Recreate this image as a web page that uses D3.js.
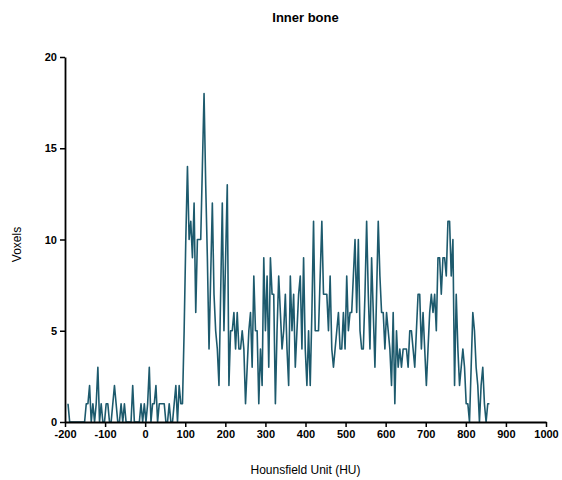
<!DOCTYPE html>
<html><head><meta charset="utf-8">
<script src="https://cdn.jsdelivr.net/npm/d3@7"></script>
<style>
body{margin:0;background:#fff}
svg{display:block}
text{font-family:"Liberation Sans",Arial,Helvetica,sans-serif}
</style>
</head><body>
<svg id="chart" width="562" height="480"></svg>
<script>
const chartTitle = "Inner bone";
const xAxisLabel = "Hounsfield Unit (HU)";
const yAxisLabel = "Voxels";
const xTickValues = [-200,-100,0,100,200,300,400,500,600,700,800,900,1000];
const yTickValues = [0,5,10,15,20];
// histogram bins: first bin centre and bin width in HU
const binStartHU = -192.5;
const binWidthHU = 4.139;
// voxel counts per bin
const voxels = [
 1,0,0,0,0,0,0,0,0,0,
 0,1,1,2,0,1,0,1,3,0,
 1,0,0,1,1,0,0,1,2,1,
 0,0,1,0,1,0,0,0,0,2,
 0,0,0,0,1,0,1,0,1,3,
 0,1,1,2,0,1,1,1,1,0,
 0,1,0,0,1,2,0,2,1,1,
 5,10,14,10,11,9,12,6,10,10,
 10,14,18,13,9,4,8,12,7,5,
 4,2,7,12,5,9,13,2,5,5,
 6,4,6,4,4,5,4,1,3,5,
 6,3,8,5,5,1,4,2,9,5,
 8,3,9,7,7,1,5,8,6,4,
 5,7,4,2,8,5,7,3,5,7,
 8,4,9,4,2,5,2,6,11,5,
 5,5,8,11,7,7,7,5,8,4,
 3,4,5,6,4,4,6,4,8,5,
 6,6,8,10,6,10,5,4,4,7,
 11,7,4,9,6,3,7,11,8,6,
 6,4,6,5,4,2,6,1,5,3,
 4,3,4,4,4,3,5,5,4,3,
 5,7,7,4,6,4,2,4,6,7,
 6,7,5,9,9,7,9,9,8,11,
 11,8,10,2,7,4,2,3,4,3,
 1,1,0,3,6,5,3,2,0,2,
 3,1,0,1,1
];

const svg = d3.select("#chart");
const plotL = 65, plotR = 546, plotT = 57, plotB = 422;
const x = d3.scaleLinear().domain([-200,1000]).range([plotL,plotR]);
const y = d3.scaleLinear().domain([0,20]).range([plotB,plotT]);

const data = voxels.map((v,i)=>({hu: binStartHU + i*binWidthHU, v}));

svg.append("path")
  .datum(data)
  .attr("fill","none")
  .attr("stroke","#1d5a6d")
  .attr("stroke-width",1.6)
  .attr("stroke-linejoin","round")
  .attr("d", d3.line().x(d=>x(d.hu)).y(d=>y(d.v)));

const xAxis = svg.append("g")
  .attr("transform",`translate(0,${plotB})`)
  .call(d3.axisBottom(x).tickValues(xTickValues).tickSize(5).tickSizeOuter(0).tickPadding(3).tickFormat(d => String(d)));
const yAxis = svg.append("g")
  .attr("transform",`translate(${plotL},0)`)
  .call(d3.axisLeft(y).tickValues(yTickValues).tickSize(5).tickSizeOuter(0).tickPadding(3).tickFormat(d => String(d)));

[xAxis,yAxis].forEach(g=>{
  g.select(".domain").attr("stroke","#000").attr("stroke-width",1.8);
  g.selectAll(".tick line").attr("stroke","#000").attr("stroke-width",1.5);
  g.selectAll(".tick text").attr("fill","#000").attr("font-size",11).attr("font-weight","bold")
    .attr("font-family",'"Liberation Sans",Arial,sans-serif');
});

svg.append("text")
  .attr("x",(plotL+plotR)/2).attr("y",22)
  .attr("text-anchor","middle").attr("font-size",13).attr("font-weight","bold")
  .text(chartTitle);

svg.append("text")
  .attr("x",(plotL+plotR)/2).attr("y",474)
  .attr("text-anchor","middle").attr("font-size",12)
  .text(xAxisLabel);

svg.append("text")
  .attr("transform",`translate(21,${(plotT+plotB)/2+5}) rotate(-90)`)
  .attr("text-anchor","middle").attr("font-size",12)
  .text(yAxisLabel);
</script>
</body></html>
